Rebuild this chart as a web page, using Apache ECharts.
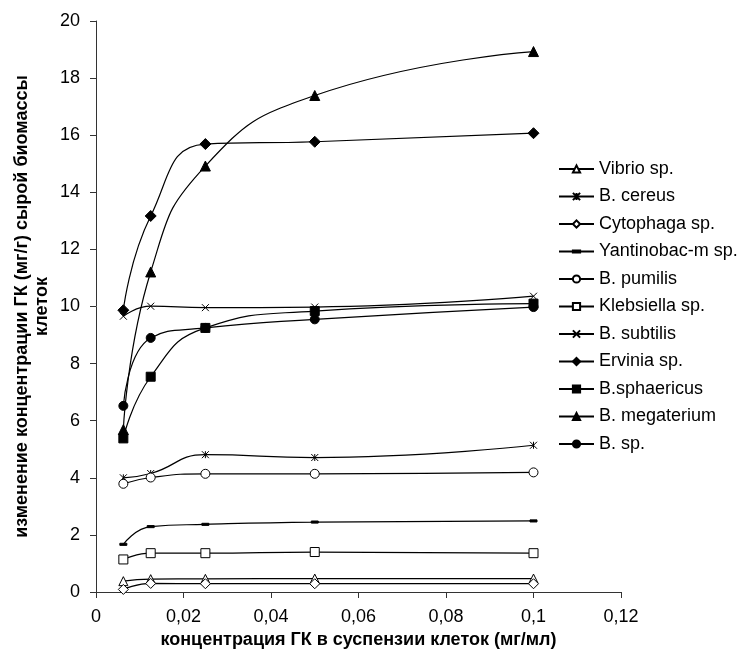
<!DOCTYPE html>
<html>
<head>
<meta charset="utf-8">
<script src="https://cdn.jsdelivr.net/npm/echarts@6/dist/echarts.min.js"></script>
<style>
  html, body { margin: 0; padding: 0; background: #fff; }
  #main { width: 744px; height: 655px; }
</style>
</head>
<body>
<div id="main"></div>
<script>
// концентрация ГК (мг/мл)
let conc = [0.00625, 0.0125, 0.025, 0.05, 0.1];

let vibrio      = [0.38, 0.45, 0.46, 0.47, 0.47];
let cereus      = [4.0, 4.15, 4.81, 4.71, 5.14];
let cytophaga   = [0.09, 0.30, 0.29, 0.29, 0.29];
let yantinobac  = [1.67, 2.29, 2.37, 2.45, 2.49];
let pumilis     = [3.79, 4.01, 4.14, 4.14, 4.19];
let klebsiella  = [1.14, 1.36, 1.36, 1.40, 1.36];
let subtilis    = [9.66, 10.01, 9.96, 9.98, 10.36];
let ervinia     = [9.87, 13.17, 15.69, 15.77, 16.07];
let sphaericus  = [5.38, 7.54, 9.25, 9.84, 10.10];
let megaterium  = [5.69, 11.21, 14.92, 17.39, 18.93];
let bsp         = [6.52, 8.90, 9.25, 9.55, 9.98];

let FONT = 'Liberation Sans, Arial, sans-serif';

// маркеры
let asterisk = 'path://M0,0L10,10M10,0L0,10M5,0L5,10';
let cross = 'path://M0,0L10,10M10,0L0,10';
// черточка в квадратной рамке, чтобы в легенде не растягивалась
let dash = 'path://M0,0M0,3.5L10,3.5L10,6.5L0,6.5ZM10,10';

function pairs(ys) {
	return conc.map((x, i) => [x, ys[i]]);
}

// описание рядов: имя, данные, символ, размер, заливка
let rows = [
	['Vibrio sp.', vibrio, 'triangle', 9, '#fff'],
	['B. cereus', cereus, asterisk, 7, 'none'],
	['Cytophaga sp.', cytophaga, 'diamond', 10, '#fff'],
	['Yantinobac-m sp.', yantinobac, dash, 7, '#000'],
	['B. pumilis', pumilis, 'circle', 9, '#fff'],
	['Klebsiella sp.', klebsiella, 'rect', 9, '#fff'],
	['B. subtilis', subtilis, cross, 7, 'none'],
	['Ervinia sp.', ervinia, 'diamond', 11, '#000'],
	['B.sphaericus', sphaericus, 'rect', 9, '#000'],
	['B. megaterium', megaterium, 'triangle', 10, '#000'],
	['B. sp.', bsp, 'circle', 9, '#000']
];

let series = rows.map(r => ({
	name: r[0],
	type: 'line',
	data: pairs(r[1]),
	smooth: 0.5,
	symbol: r[2],
	symbolSize: r[3],
	showAllSymbol: true,
	lineStyle: { color: '#000', width: 1.2 },
	itemStyle: {
		color: r[4] === 'none' ? '#000' : r[4],
		borderColor: '#000',
		borderWidth: 1
	},
	emphasis: { disabled: true },
	z: 2
}));

let myChart = echarts.init(document.getElementById('main'));

let option = {
	animation: false,
	textStyle: { fontFamily: FONT },
	grid: { left: 96, right: 123, top: 21, bottom: 63 },
	legend: {
		orient: 'vertical',
		left: 558,
		top: 160,
		padding: 0,
		itemWidth: 35,
		itemHeight: 9,
		itemGap: 9.5,
		textStyle: { fontSize: 18, lineHeight: 18, color: '#000', fontFamily: FONT },
		data: rows.map(r => r[0])
	},
	xAxis: {
		type: 'value',
		min: 0,
		max: 0.12,
		interval: 0.02,
		name: 'концентрация ГК в суспензии клеток (мг/мл)',
		nameLocation: 'middle',
		nameGap: 39,
		nameMoveOverlap: false,
		nameTextStyle: { fontSize: 18, fontWeight: 'bold', color: '#000', lineHeight: 18 },
		axisLine: { lineStyle: { color: '#333', width: 1 } },
		axisTick: { length: 6, lineStyle: { color: '#333' } },
		axisLabel: {
			fontSize: 18,
			color: '#000',
			margin: 16,
			formatter: v => String(+v.toFixed(2)).replace('.', ',')
		},
		splitLine: { show: false }
	},
	yAxis: {
		type: 'value',
		min: 0,
		max: 20,
		interval: 2,
		name: 'изменение концентрации ГК (мг/г) сырой биомассы\nклеток',
		nameLocation: 'middle',
		nameGap: 44,
		nameMoveOverlap: false,
		nameTextStyle: { fontSize: 18, fontWeight: 'bold', color: '#000', lineHeight: 20 },
		axisLine: { show: true, lineStyle: { color: '#333', width: 1 } },
		axisTick: { show: true, length: 6, lineStyle: { color: '#333' } },
		axisLabel: { fontSize: 18, color: '#000', margin: 16 },
		splitLine: { show: false }
	},
	series: series
};

myChart.setOption(option);
</script>
</body>
</html>
